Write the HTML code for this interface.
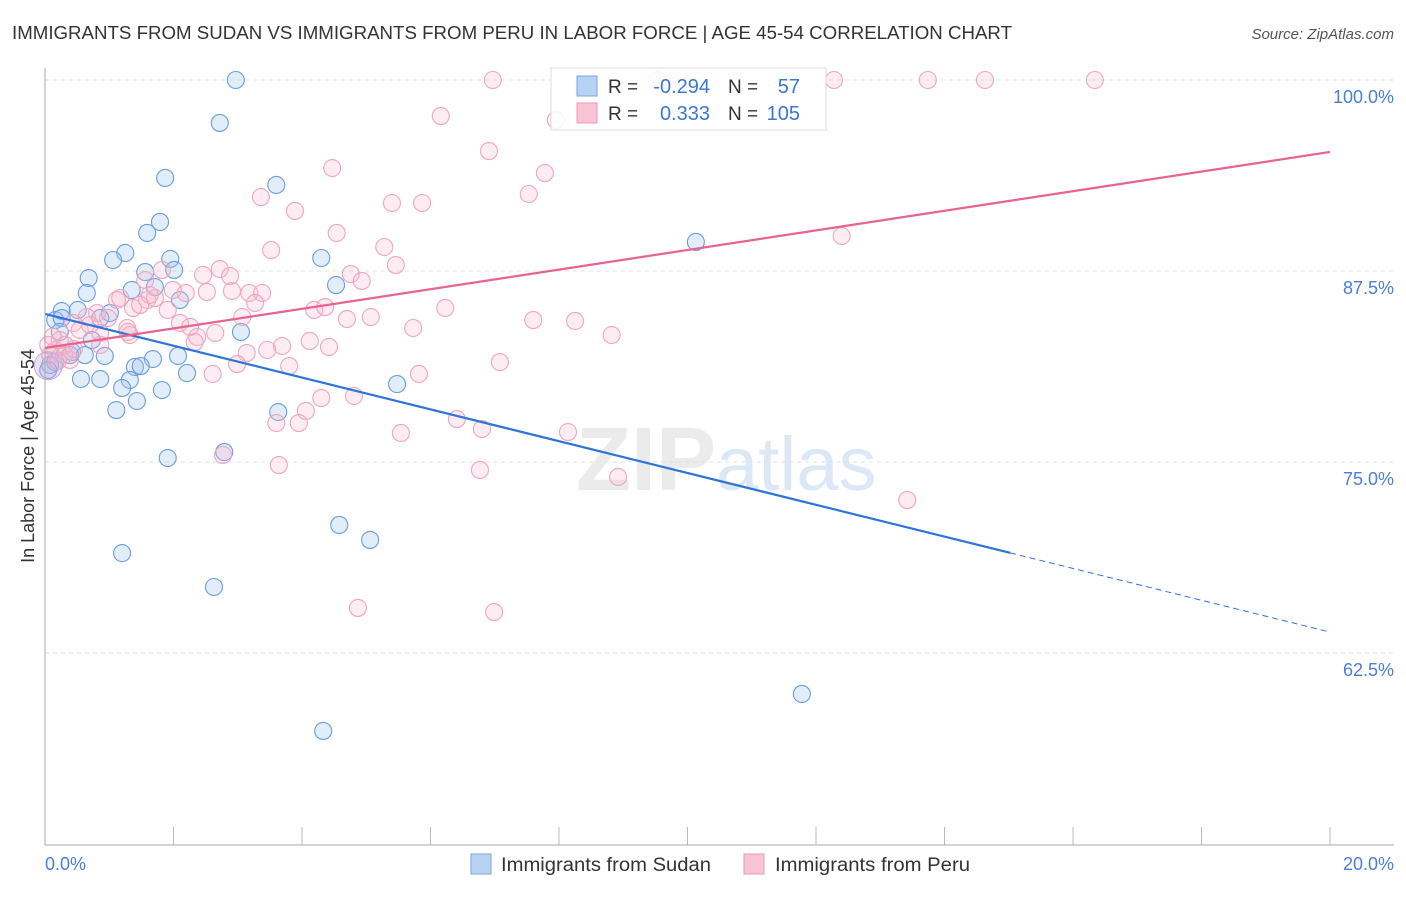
<!DOCTYPE html>
<html><head><meta charset="utf-8"><style>
body{margin:0;background:#fff;font-family:"Liberation Sans",sans-serif}
svg text{font-family:"Liberation Sans",sans-serif}
</style></head><body>
<svg id="c" width="1406" height="892">
<text x="12" y="39" font-size="18" fill="#333" textLength="1000" lengthAdjust="spacingAndGlyphs">IMMIGRANTS FROM SUDAN VS IMMIGRANTS FROM PERU IN LABOR FORCE | AGE 45-54 CORRELATION CHART</text>
<text x="1394" y="39" font-size="15" fill="#555" font-style="italic" text-anchor="end">Source: ZipAtlas.com</text>
<text x="716" y="490" font-size="90" font-weight="bold" fill="#ebebeb" text-anchor="end">ZIP</text>
<text x="716" y="490" font-size="76" fill="#dde8f6">atlas</text>
<text transform="translate(34,456) rotate(-90)" font-size="18" fill="#333" text-anchor="middle">In Labor Force | Age 45-54</text>
<g id="grid"></g><g id="pts"></g><g id="lines"></g>
<line x1="45" y1="68" x2="45" y2="845" stroke="#aaa"/>
<line x1="45" y1="845" x2="1394" y2="845" stroke="#aaa"/>
<text x="45" y="870" font-size="18" fill="#4a7fd4">0.0%</text>
<text x="1394" y="870" font-size="18" fill="#4a7fd4" text-anchor="end">20.0%</text>
<g>
<rect x="551" y="68" width="275" height="62" fill="rgba(255,255,255,0.85)" stroke="#ddd"/>
<rect x="577" y="76" width="20" height="20" fill="#b8d2f4" stroke="#7aa6e0"/>
<rect x="577" y="103" width="20" height="20" fill="#f8c4d4" stroke="#eb9ab4"/>
<text x="608" y="93" font-size="19" fill="#333">R =</text><text x="710" y="93" font-size="20" fill="#3a78d4" text-anchor="end">-0.294</text>
<text x="728" y="93" font-size="19" fill="#333">N =</text><text x="800" y="93" font-size="20" fill="#3a78d4" text-anchor="end">57</text>
<text x="608" y="120" font-size="19" fill="#333">R =</text><text x="710" y="120" font-size="20" fill="#3a78d4" text-anchor="end">0.333</text>
<text x="728" y="120" font-size="19" fill="#333">N =</text><text x="800" y="120" font-size="20" fill="#3a78d4" text-anchor="end">105</text>
</g>
<g>
<rect x="471" y="854" width="20" height="20" fill="#b8d2f4" stroke="#7aa6e0"/>
<text x="501" y="871" font-size="19" fill="#333" textLength="210" lengthAdjust="spacingAndGlyphs">Immigrants from Sudan</text>
<rect x="744" y="854" width="20" height="20" fill="#f8c4d4" stroke="#eb9ab4"/>
<text x="775" y="871" font-size="19" fill="#333" textLength="195" lengthAdjust="spacingAndGlyphs">Immigrants from Peru</text>
</g>
</svg>
<script>
const yTicks=[100,87.5,75,62.5];
const yTickLabels=["100.0%","87.5%","75.0%","62.5%"];
const xTicks=[0,2,4,6,8,10,12,14,16,18,20];
const sudanX=[2.97,2.72,1.87,3.60,1.79,1.59,1.25,1.06,1.95,4.30,0.68,1.56,2.01,0.65,4.53,1.35,1.71,2.10,0.26,0.51,1.01,0.16,0.26,0.86,3.05,0.23,0.73,0.42,0.39,0.93,1.68,2.07,0.16,1.40,1.49,1.32,0.86,0.56,2.21,1.20,1.82,5.48,1.43,1.11,3.63,2.79,1.91,4.58,1.20,5.06,2.63,10.13,11.78,4.33,0.08,0.05,0.62];
const sudanY=[100,97.19,93.59,93.13,90.71,89.99,88.68,88.22,88.29,88.35,87.04,87.43,87.57,86.06,86.58,86.26,86.45,85.60,84.88,84.95,84.75,84.29,84.42,84.42,83.51,83.51,82.98,82.20,82.00,81.94,81.74,81.94,81.54,81.22,81.28,80.37,80.43,80.43,80.82,79.84,79.71,80.10,78.99,78.40,78.27,75.65,75.26,70.88,69.04,69.90,66.82,89.40,59.82,57.40,81.35,81.02,82.0];
const peruX=[6.97,6.16,6.91,4.47,3.36,3.89,5.40,5.87,4.54,3.52,5.28,5.46,4.76,4.93,2.46,2.72,2.88,2.52,2.91,3.18,3.38,3.27,2.19,1.82,1.99,1.59,1.37,1.12,0.81,0.65,0.44,1.91,2.10,2.26,2.37,2.65,3.07,1.28,1.32,0.86,2.33,3.14,2.99,2.61,3.46,3.69,4.12,4.42,3.80,4.19,4.36,4.70,5.07,5.73,6.23,7.08,5.82,4.81,4.30,4.06,3.95,3.60,2.77,3.64,5.54,6.41,6.80,6.77,0.23,0.16,0.31,0.39,0.54,0.86,0.70,0.98,1.17,1.29,1.48,1.71,1.56,1.63,7.95,7.78,7.53,9.53,12.28,13.74,14.63,16.34,12.40,7.60,8.25,8.82,8.14,8.92,13.42,6.99,4.87,0.08,0.05,0.12,0.30,0.45,0.20];
const peruY=[100,97.64,95.35,94.24,92.34,91.43,91.95,91.95,89.99,88.87,89.07,87.89,87.30,86.85,87.24,87.63,87.17,86.13,86.19,86.06,86.06,85.41,86.06,87.57,86.26,85.60,85.08,85.60,84.75,84.49,84.10,84.95,84.10,83.84,83.18,83.44,84.49,83.77,83.31,83.44,82.85,82.13,81.41,80.76,82.33,82.59,82.92,82.53,81.28,84.95,85.14,84.36,84.49,83.77,85.08,81.54,80.76,79.32,79.19,78.34,77.55,77.55,75.46,74.80,76.90,77.81,77.16,74.48,82.98,82.33,82.66,81.68,83.64,82.66,83.97,84.42,85.73,83.51,85.28,85.73,86.91,85.93,97.38,93.91,92.54,100,100,100,100,100,89.79,84.29,84.23,83.31,76.96,74.02,72.51,65.18,65.45,82.0,82.66,83.2,82.0,82.4,81.6];
const sudanTrend=[84.69,63.87], sudanSolidEnd=15.02;
const peruTrend=[82.46,95.29];
const NS='http://www.w3.org/2000/svg';
const X=v=>45+v*64.25, Y=v=>80+(100-v)*15.28;
function mk(t,a,p){const e=document.createElementNS(NS,t);for(const k in a)e.setAttribute(k,a[k]);p.appendChild(e);return e;}
const grid=document.getElementById('grid');
yTicks.forEach((t,i)=>{
 const l=mk('line',{x1:45,x2:1394,y1:Y(t),y2:Y(t),stroke:'#e2e2e2','stroke-dasharray':'4,4'},grid);
 
 
 const tx=mk('text',{x:1394,y:Y(t)+23,'font-size':18,fill:'#4a7fd4','text-anchor':'end'},grid);tx.textContent=yTickLabels[i];
 
 
});
xTicks.forEach(t=>{
 const l=mk('line',{x1:X(t),x2:X(t),y1:827,y2:845,stroke:'#bbb'},grid);
 
 
});
const pts=document.getElementById('pts');
sudanX.forEach((x,i)=>{
 const c=mk('circle',{cx:X(x),cy:Y(sudanY[i]),r:8.5,fill:'rgba(160,195,240,0.3)',stroke:'#6a9de0','stroke-width':1.1},pts);
 
 
});
peruX.forEach((x,i)=>{
 const c=mk('circle',{cx:X(x),cy:Y(peruY[i]),r:8.5,fill:'rgba(248,185,205,0.28)',stroke:'#efa6be','stroke-width':1.1},pts);
 
 
});
const big=mk('circle',{cx:X(0.05),cy:Y(81.3),r:14,fill:'rgba(200,170,220,0.35)',stroke:'#c8aadc'},pts);


const lines=document.getElementById('lines');
const sy=x=>sudanTrend[0]+(sudanTrend[1]-sudanTrend[0])*x/20;
let l=mk('line',{x1:X(0),y1:Y(sy(0)),x2:X(sudanSolidEnd),y2:Y(sy(sudanSolidEnd)),stroke:'#2f74d8','stroke-width':2.2},lines);


l=mk('line',{x1:X(sudanSolidEnd),y1:Y(sy(sudanSolidEnd)),x2:X(20),y2:Y(sy(20)),stroke:'#2f74d8','stroke-width':1,'stroke-dasharray':'6,4'},lines);


l=mk('line',{x1:X(0),y1:Y(peruTrend[0]),x2:X(20),y2:Y(peruTrend[1]),stroke:'#e8638f','stroke-width':2.2},lines);


</script>
</body></html>
